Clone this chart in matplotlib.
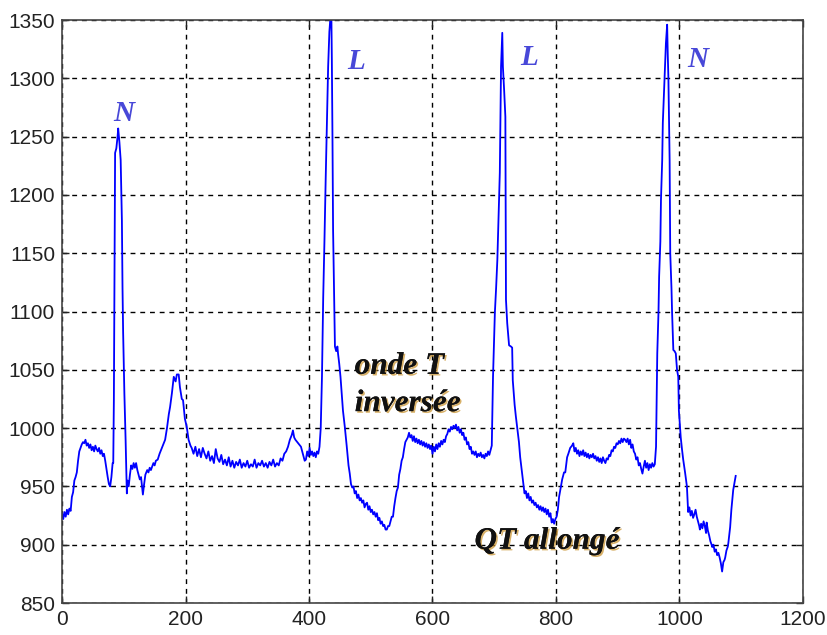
import matplotlib
matplotlib.use("Agg")
import matplotlib.pyplot as plt
import matplotlib.patheffects as pe

# ---- ECG samples (x: sample index, y: amplitude) ----
ecg_x = [0,2,4,6,8,10,12,14,16,18,20,22,24,26,28,30,32,34,36,38,40,42,44,46,48,50,52,54,56,58,60,62,64,66,68,70,72,74,76,78,80,82,
         83,84,85,86,88,90,91,93,95,97,98,99,101,103,105,106,108,110,112,114,116,118,120,122,124,126,128,130,131,133,135,138,140,142,144,146,148,150,152,155,158,161,164,167,170,173,175,178,181,184,186,189,191,194,196,199,202,205,208,210,
         213,216,219,222,225,228,231,234,237,240,243,246,249,252,255,258,261,264,267,270,273,276,279,282,285,288,291,294,297,300,303,306,309,312,315,318,321,324,327,330,333,336,339,342,345,348,351,354,357,360,363,366,369,372,374,376,378,381,384,387,389,391,393,395,397,399,401,403,405,407,409,411,413,415,417,
         419,421,423,425,427,429,431,433,434,436,437,438,439,441,442,444,446,447,449,451,453,455,458,461,464,466,468,470,472,474,476,478,480,482,484,486,488,490,492,494,496,498,500,502,504,506,508,510,512,514,516,518,520,522,524,526,528,530,532,534,536,538,540,542,544,546,548,550,552,554,556,558,560,562,564,566,568,570,572,574,576,578,580,582,584,586,588,590,592,594,596,598,
         600,602,604,606,608,610,612,614,616,618,620,622,624,626,628,630,632,634,636,638,640,642,644,646,648,650,652,654,656,658,660,662,664,666,668,670,672,674,676,678,680,682,684,686,688,690,692,694,696,
         698,701,703,705,707,709,711,713,714,716,718,719,721,724,727,729,730,733,735,737,740,742,745,747,749,751,753,755,757,759,761,763,765,767,769,771,773,775,777,779,781,783,785,787,789,791,793,795,797,799,801,803,805,808,810,813,815,818,820,823,826,828,
         830,832,834,836,838,840,842,844,846,848,850,852,854,856,858,860,862,864,866,868,870,872,874,876,878,880,882,884,886,888,890,892,894,896,898,900,902,904,906,908,910,912,914,916,918,920,922,924,926,928,930,932,934,936,938,940,942,944,946,948,950,952,954,956,958,960,
         962,964,966,967,969,970,972,973,975,977,978,980,981,982,984,985,987,988,990,992,994,996,998,999,1001,1002,1004,1006,1009,1012,1014,1016,1018,1020,1022,1024,1026,1028,1030,1032,1033,1035,1037,1039,1041,1043,1044,1046,1048,1050,1052,1053,1055,1057,1059,1061,1063,1065,1067,1069,1071,1073,1074,1076,1078,1079,1081,1082,1084,1085,1087,1089,1091]
ecg_y = [927,922,928,924,930,926,931,929,941,945,955,958,962,972,980,983,986,988,987,990,985,987,983,986,981,984,980,985,982,980,983,978,981,976,978,972,965,958,952,950,958,970,
         970,1024,1130,1236,1240,1250,1257,1245,1230,1178,1120,1082,1030,990,944,955,950,960,968,965,970,966,970,964,960,956,958,948,943,952,960,964,962,966,964,967,970,968,972,973,978,982,986,990,1000,1012,1018,1030,1044,1040,1046,1046,1035,1025,1024,1008,1001,990,985,983,
         978,984,976,982,975,983,978,974,980,972,976,970,982,974,971,977,969,973,968,975,967,972,966,971,968,973,966,970,967,972,966,969,967,973,966,970,968,972,967,970,966,971,968,973,967,970,968,974,972,978,980,984,990,994,998,992,990,988,986,984,980,976,972,973,980,976,983,977,980,976,979,975,980,978,984,
         1000,1044,1112,1160,1213,1260,1310,1340,1347,1365,1316,1250,1170,1100,1070,1066,1070,1064,1055,1044,1030,1015,1001,985,968,961,952,949,950,944,946,940,943,938,940,936,938,932,935,936,930,933,928,930,926,928,924,927,921,923,918,920,916,917,913,913,916,916,920,924,924,933,940,946,949,960,965,972,975,982,988,990,992,996,992,994,989,993,988,991,987,990,986,989,985,988,984,987,983,986,982,985,
         978,984,980,986,982,987,984,989,986,990,988,993,995,999,997,1001,999,1002,1000,1003,998,1001,996,999,994,996,990,992,986,988,982,984,978,980,977,980,975,978,976,979,975,977,974,978,976,980,977,981,985,
         1044,1099,1120,1144,1180,1219,1310,1339,1310,1290,1267,1110,1090,1071,1070,1069,1041,1020,1010,1001,988,975,962,953,944,946,940,944,938,941,936,938,934,936,932,934,930,933,929,932,928,931,926,930,924,927,919,922,918,922,924,930,941,950,956,962,962,975,978,983,985,987,
         980,983,978,981,976,980,977,981,976,979,975,978,974,977,975,978,974,976,972,975,971,974,970,975,972,970,974,973,977,976,981,980,984,983,987,986,989,987,991,988,991,990,988,991,986,990,983,986,980,978,973,975,968,970,965,961,967,972,966,970,964,969,966,970,967,969,
         984,1064,1100,1130,1160,1196,1230,1262,1290,1318,1330,1346,1320,1301,1230,1150,1120,1099,1067,1066,1064,1050,1044,1015,1000,992,982,973,962,950,928,932,925,929,923,926,930,924,920,916,913,918,914,920,916,910,919,912,908,903,900,898,900,894,896,891,893,889,884,877,885,887,889,895,898,901,910,915,930,936,947,953,959]

# ---- beat labels ----
beat_labels = ["N", "L", "L", "N"]
beat_label_x = [100, 477, 756, 1030]
beat_label_y = [1270, 1314, 1318, 1316]

# ---- annotations ----
note_texts = ["onde T", "inversée", "QT allongé"]
note_x = [474, 474, 668]
note_y = [1053, 1021, 903]

x_ticks = [0, 200, 400, 600, 800, 1000, 1200]
y_ticks = [850, 900, 950, 1000, 1050, 1100, 1150, 1200, 1250, 1300, 1350]

fig = plt.figure(figsize=(8.27, 6.35), dpi=100)
ax = fig.add_axes([62/827, 1-603/635, (803-62)/827, (603-20)/635])

ax.plot(ecg_x, ecg_y, color="#0000ff", linewidth=1.3, clip_on=True)

ax.set_xlim(0, 1200)
ax.set_ylim(850, 1350)
ax.set_xticks(x_ticks)
ax.set_yticks(y_ticks)
ax.tick_params(direction="in", length=5, width=1, top=True, right=True,
               labelsize=15, colors="#222222", pad=5)
for lab in ax.get_xticklabels() + ax.get_yticklabels():
    lab.set_fontfamily("Liberation Sans")
ax.grid(True, color="black", linestyle=(0, (3.5, 3.5)), linewidth=1.0)
for s in ax.spines.values():
    s.set_color("#444444")
    s.set_linewidth(1.2)

for t, x, y in zip(beat_labels, beat_label_x, beat_label_y):
    ax.text(x, y, t, fontsize=21, fontfamily="Liberation Serif", fontstyle="italic",
            fontweight="bold", color="#4848d8", ha="center", va="center")

shadow = [pe.withSimplePatchShadow(offset=(1.2, -1.2), shadow_rgbFace="#c8902a", alpha=0.7), pe.Normal()]
for t, x, y in zip(note_texts, note_x, note_y):
    ax.text(x, y, t, fontsize=22.5, fontfamily="Liberation Serif", fontstyle="italic",
            fontweight="bold", color="#111111", ha="left", va="center", path_effects=shadow)

fig.savefig("out.png", dpi=100)
